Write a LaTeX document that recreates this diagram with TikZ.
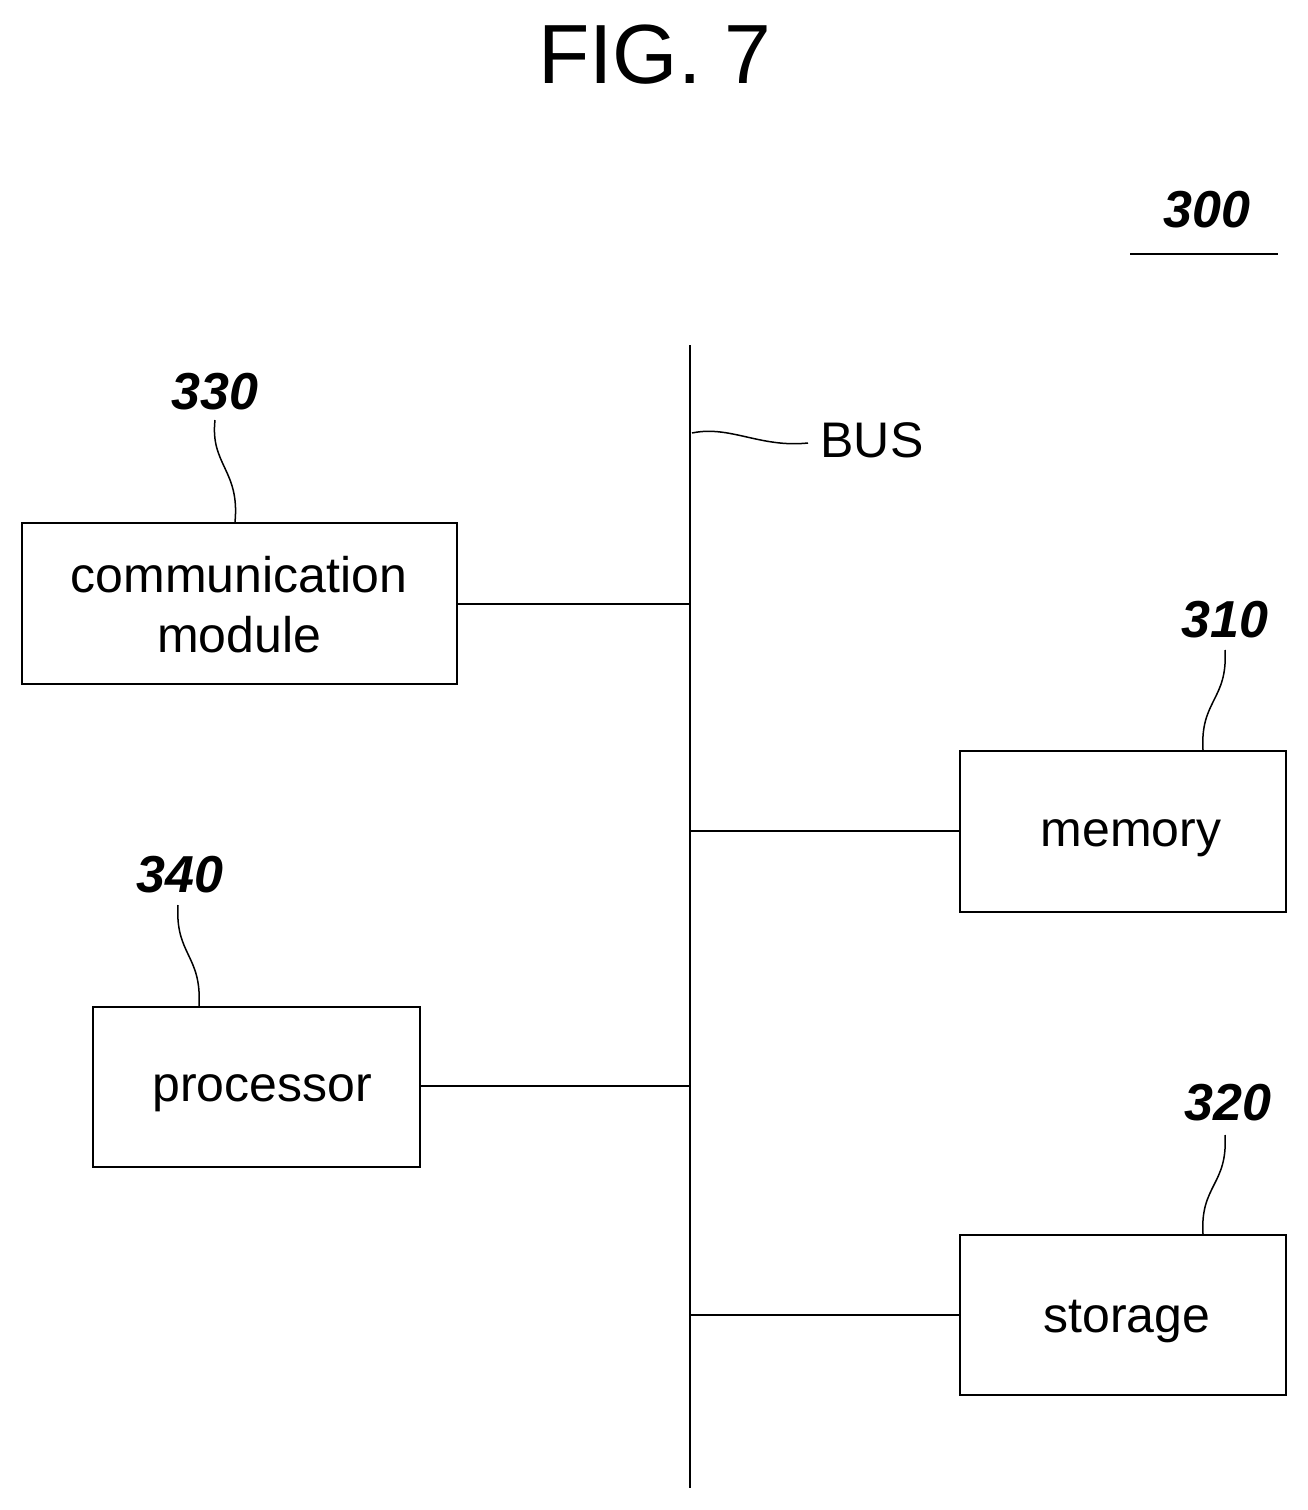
\documentclass[tikz,border=0pt]{standalone}
\usepackage{fontspec}
\setmainfont{Liberation Sans}
\begin{document}
\begin{tikzpicture}[x=1pt,y=-1pt,line width=2.2pt,
 box/.style={draw,line width=2.2pt,inner sep=0pt},
 btxt/.style={font=\fontsize{50}{60}\selectfont,align=center},
 num/.style={font=\fontsize{52}{56}\selectfont\bfseries\itshape},
 lead/.style={line width=1.5pt}]
\useasboundingbox (0,0) rectangle (1308,1510);
\node at (655,55) {\fontsize{84}{90}\selectfont FIG.\ 7};
\node[num] (n300) at (1207,210) {300};
\draw (1130,254) -- (1278,254);
\coordinate (bt) at (690,345); \coordinate (bb) at (690,1488);
\draw (bt) -- (bb);
\node[btxt] (bus) at (872,440) {BUS};
\draw[lead] (692,433) .. controls (730,425) and (760,448) .. (808,443);
\node[box,minimum width=435pt,minimum height=161pt] (cm) at (239.5,603.5) {};
\node[btxt] at (239,605) {communication\\module};
\node[box,minimum width=326pt,minimum height=161pt] (mem) at (1123,831.5) {};
\node[btxt] at (1131,838) {memory};
\node[box,minimum width=327pt,minimum height=160pt] (proc) at (256.5,1087) {};
\node[btxt] at (262,1093) {processor};
\node[box,minimum width=326pt,minimum height=160pt] (sto) at (1123,1315) {};
\node[btxt] at (1127,1322) {storage};
\coordinate (j1) at (690,604); \coordinate (j2) at (690,831);
\coordinate (j3) at (690,1086); \coordinate (j4) at (690,1315);
\draw (cm.east |- j1) -- (j1);
\draw (j2) -- (mem.west |- j2);
\draw (proc.east |- j3) -- (j3);
\draw (j4) -- (sto.west |- j4);
\node[num] (n330) at (215,392) {330};
\node[num] (n310) at (1225,620) {310};
\node[num] (n340) at (180,875) {340};
\node[num] (n320) at (1228,1103) {320};
\draw[lead] (235,522) .. controls (240,470) and (210,465) .. (215,420);
\draw[lead] (1203,750) .. controls (1200,700) and (1228,700) .. (1225,650);
\draw[lead] (199,1006) .. controls (202,955) and (175,955) .. (178,905);
\draw[lead] (1203,1234) .. controls (1200,1185) and (1228,1185) .. (1225,1135);
\end{tikzpicture}
\end{document}
